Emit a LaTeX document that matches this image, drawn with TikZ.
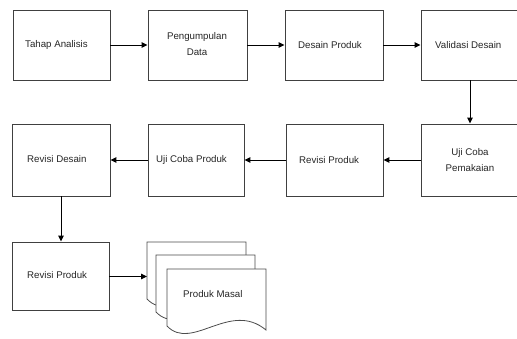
\documentclass[tikz,border=0pt]{standalone}
\usepackage{fontspec}
\setmainfont{Liberation Sans}
\usetikzlibrary{arrows.meta}
\begin{document}
\begin{tikzpicture}[x=1pt,y=-1pt,
  box/.style={draw=black!75,line width=0.9pt,fill=white,minimum height=70pt,inner sep=0pt},
  lbl/.style={font=\fontsize{9.7}{16}\selectfont,text=black!85,inner sep=0pt,anchor=west},
  arr/.style={draw=black,line width=1pt,-{Triangle[length=6pt,width=5.5pt]}},
  docshape/.style={draw=black!70,line width=0.8pt,fill=white}]
\useasboundingbox (0,0) rectangle (517,338);
% row 1
\node[box,minimum width=97pt] (b1) at (61.5,45) {};
\node[box,minimum width=99pt] (b2) at (197.5,45) {};
\node[box,minimum width=98pt] (b3) at (334,45) {};
\node[box,minimum width=98pt] (b4) at (470,45) {};
% row 2
\node[box,minimum width=98pt,minimum height=72pt] (c1) at (61,160) {};
\node[box,minimum width=96pt,minimum height=72pt] (c2) at (196,160) {};
\node[box,minimum width=97pt,minimum height=72pt] (c3) at (334.5,160) {};
\node[box,minimum width=98pt,minimum height=72pt] (c4) at (470,160) {};
% row 3
\node[box,minimum width=97pt,minimum height=68pt] (d1) at (60.5,276) {};
% documents
\foreach \x/\y in {147/242,156/255,167/269}{
  \path[docshape] (\x,\y) -- ++(99,0) -- ++(0,61)
    .. controls (\x+63,\y+31) and (\x+25,\y+83) .. (\x,\y+57) -- cycle;
}
\coordinate (doc) at (147,276.5);
% labels
\node[lbl] (t1) at (25,45) {Tahap Analisis};
\node[lbl,anchor=center,align=center] (t2) at (197,44) {Pengumpulan\\Data};
\node[lbl] (t3) at (298,45) {Desain Produk};
\node[lbl] (t4) at (435,45) {Validasi Desain};
\node[lbl] (u1) at (27,159) {Revisi Desain};
\node[lbl] (u2) at (156,160) {Uji Coba Produk};
\node[lbl] (u3) at (299,160) {Revisi Produk};
\node[lbl,anchor=center,align=center] (u4) at (470,160) {Uji Coba\\Pemakaian};
\node[lbl] (v1) at (27,275) {Revisi Produk};
\node[lbl] (v2) at (183,294) {Produk Masal};
% connectors
\draw[arr] (b1.east) -- (b2.west);
\draw[arr] (b2.east) -- (b3.west);
\draw[arr] (b3.east) -- (b4.west);
\draw[arr] (b4.south) -- (c4.north);
\draw[arr] (c4.west) -- (c3.east);
\draw[arr] (c3.west) -- (c2.east);
\draw[arr] (c2.west) -- (c1.east);
\draw[arr] (c1.south) -- (c1.south |- d1.north);
\draw[arr] (d1.east |- doc) -- (doc);
\end{tikzpicture}
\end{document}
